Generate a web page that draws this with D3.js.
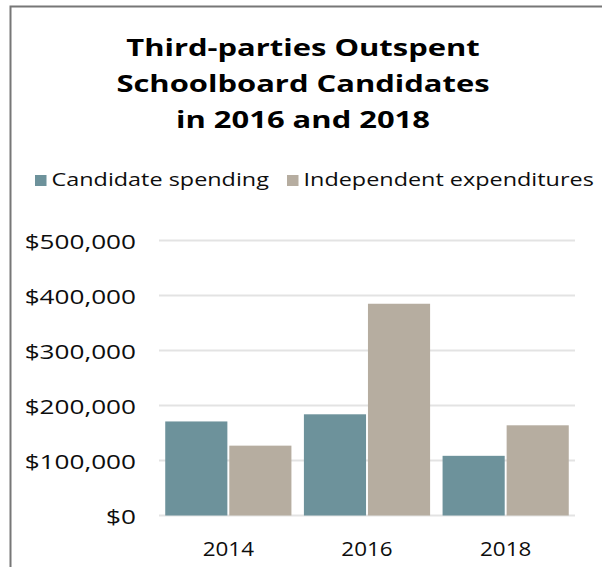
<!DOCTYPE html>
<html><head><meta charset="utf-8">
<script src="https://cdn.jsdelivr.net/npm/d3@7"></script>
<style>body{margin:0;background:#fff}svg{display:block}</style>
</head><body>
<svg id="c" width="602" height="567"></svg>
<script>
const years = ["2014", "2016", "2018"];
const seriesNames = ["Candidate spending", "Independent expenditures"];
const candidateSpending = [171000, 184000, 108500];
const independentExpenditures = [127000, 385000, 164000];
const yTicks = [0, 100000, 200000, 300000, 400000, 500000];
const titleLines = ["Third-parties Outspent", "Schoolboard Candidates", "in 2016 and 2018"];
const colors = ["#6d929b", "#b6ada0"];

const svg = d3.select("#c");
const font = "'Open Sans', sans-serif";

// frame
svg.append("path").attr("d", "M10.5,567 V6.5 H602").attr("fill", "none").attr("stroke", "#777").attr("stroke-width", 2);

// title
svg.append("g").selectAll("text").data(titleLines).join("text")
  .attr("transform", (d, i) => `translate(303,${55.5 + i * 36}) scale(1.3,1)`)
  .attr("text-anchor", "middle").attr("font-family", font).attr("font-weight", 700)
  .attr("font-size", 23.8).attr("fill", "#000").text(d => d);

const x0 = d3.scaleBand().domain(years).range([159, 575]).paddingInner(0.09).paddingOuter(0.045);
const x1 = d3.scaleBand().domain(seriesNames).range([0, x0.bandwidth()]).paddingInner(0.03);
const y = d3.scaleLinear().domain([0, 500000]).range([515.5, 240.5]);

// grid
svg.append("g").selectAll("line").data(yTicks).join("line")
  .attr("x1", 159).attr("x2", 575).attr("y1", d => y(d)).attr("y2", d => y(d))
  .attr("stroke", "#e3e3e3").attr("stroke-width", 1.8);

// y axis labels
const yAxis = d3.axisLeft(y).tickValues(yTicks).tickSize(0).tickPadding(0)
  .tickFormat(d => "$" + d3.format(",")(d));
const ya = svg.append("g").attr("transform", "translate(136,0)").call(yAxis);
ya.select(".domain").remove();
ya.selectAll("text").attr("font-family", font).attr("font-size", 19.5).attr("fill", "#0d0d0d")
  .attr("x", 0).attr("y", 0).attr("dy", 0).attr("transform", "translate(0,8) scale(1.34,1)");

// x axis labels
const xAxis = d3.axisBottom(x0).tickSize(0).tickPadding(0);
const xa = svg.append("g").attr("transform", "translate(0,536)").call(xAxis);
xa.select(".domain").remove();
xa.selectAll("text").attr("font-family", font).attr("font-size", 19.5).attr("fill", "#0d0d0d")
  .attr("y", 0).attr("dy", 0).attr("transform", "translate(0,20) scale(1.15,1)");

// bars
const rows = years.map((yr, i) => ({ year: yr, vals: [candidateSpending[i], independentExpenditures[i]] }));
const g = svg.append("g").selectAll("g").data(rows).join("g")
  .attr("transform", d => `translate(${x0(d.year)},0)`);
g.selectAll("rect").data(d => d.vals.map((v, j) => ({ key: seriesNames[j], v, j }))).join("rect")
  .attr("x", d => x1(d.key)).attr("width", x1.bandwidth())
  .attr("y", d => y(d.v)).attr("height", d => y(0) - y(d.v))
  .attr("fill", d => colors[d.j]);

// legend
const legend = [{ name: seriesNames[0], x: 35 }, { name: seriesNames[1], x: 287 }];
const lg = svg.append("g").selectAll("g").data(legend).join("g")
  .attr("transform", d => `translate(${d.x},0)`);
lg.append("rect").attr("x", 0).attr("y", 175).attr("width", 11.5).attr("height", 11)
  .attr("fill", (d, i) => colors[i]);
lg.append("text").attr("transform", "translate(16.5,186) scale(1.245,1)").attr("font-family", font).attr("font-size", 18.8)
  .attr("fill", "#0d0d0d").text(d => d.name);
</script>
</body></html>
